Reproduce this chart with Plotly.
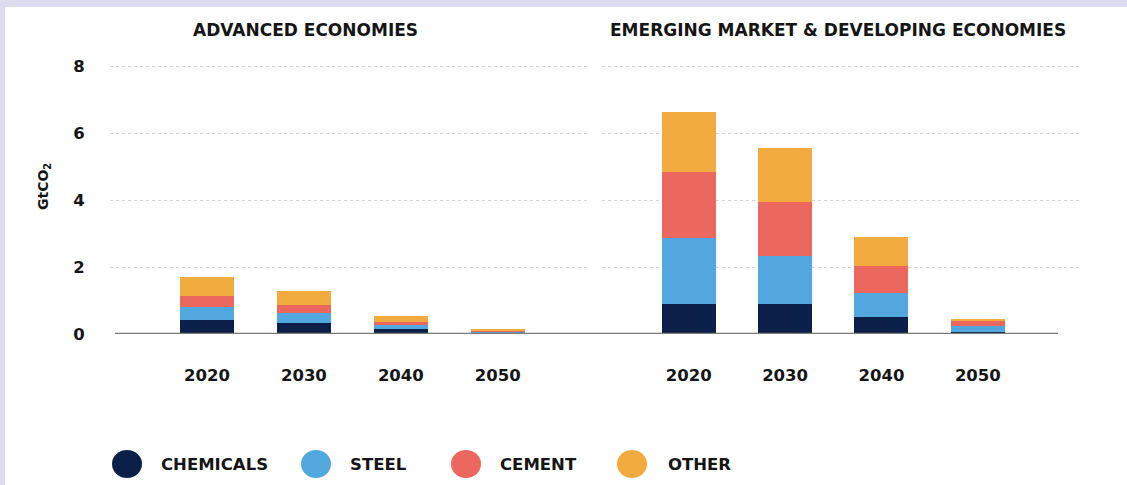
import plotly.graph_objects as go

# ---- data ----
years = ["2020", "2030", "2040", "2050"]
sectors = ["CHEMICALS", "STEEL", "CEMENT", "OTHER"]

adv_chemicals = [0.42, 0.34, 0.14, 0.03]
adv_steel = [0.40, 0.28, 0.12, 0.04]
adv_cement = [0.32, 0.25, 0.10, 0.02]
adv_other = [0.55, 0.40, 0.18, 0.03]

emd_chemicals = [0.90, 0.90, 0.52, 0.05]
emd_steel = [1.96, 1.44, 0.71, 0.19]
emd_cement = [1.97, 1.61, 0.81, 0.15]
emd_other = [1.79, 1.61, 0.86, 0.04]

panel_titles = ["ADVANCED ECONOMIES", "EMERGING MARKET & DEVELOPING ECONOMIES"]
y_title = "GtCO<sub>2</sub>"

# ---- styles ----
colors = ["#0b2049", "#52a8de", "#ec685f", "#f2ab3f"]
FONT = "DejaVu Sans"
W, H = 1127, 485
TXT = "#151515"


def px(x):
    return x / W


def py(y):
    return 1 - y / H


adv = [adv_chemicals, adv_steel, adv_cement, adv_other]
emd = [emd_chemicals, emd_steel, emd_cement, emd_other]

fig = go.Figure()
for i, name in enumerate(sectors):
    fig.add_trace(go.Bar(x=years, y=adv[i], name=name, marker_color=colors[i],
                         marker_line_width=0, showlegend=False,
                         xaxis="x", yaxis="y"))
    fig.add_trace(go.Bar(x=years, y=emd[i], name=name, marker_color=colors[i],
                         marker_line_width=0, showlegend=False,
                         xaxis="x2", yaxis="y2"))

tickfont = dict(family=FONT, size=16.5, color=TXT, weight="bold")
YMAX = 8.06
ydom = [py(334), py(334 - YMAX * 33.5)]

xcommon = dict(type="category", showgrid=False, zeroline=False, showline=False,
               ticks="outside", ticklen=26, tickcolor="rgba(0,0,0,0)",
               tickfont=tickfont, fixedrange=True, automargin=False)
ycommon = dict(range=[0, YMAX], tickvals=[0, 2, 4, 6, 8], showgrid=True,
               gridcolor="#d4d4d4", griddash="dot", gridwidth=1, zeroline=False,
               showline=False, domain=ydom, fixedrange=True, automargin=False)

shapes = [
    # white card over lavender frame
    dict(type="rect", xref="paper", yref="paper", x0=px(5), x1=1, y0=0, y1=py(7),
         fillcolor="white", line_width=0, layer="below"),
    # baseline
    dict(type="line", xref="paper", yref="y", x0=px(115), x1=px(1058), y0=0, y1=0,
         line=dict(color="#7a7a7a", width=2.5)),
]

title_font = dict(family=FONT, size=17, color=TXT, weight="bold")
annotations = [
    dict(text=panel_titles[0], x=px(306), y=py(30), xref="paper", yref="paper",
         xanchor="center", yanchor="middle", showarrow=False, font=title_font),
    dict(text=panel_titles[1], x=px(838), y=py(30), xref="paper", yref="paper",
         xanchor="center", yanchor="middle", showarrow=False, font=title_font),
    dict(text=y_title, x=px(44), y=py(187), xref="paper", yref="paper",
         xanchor="center", yanchor="middle", showarrow=False, textangle=-90,
         font=dict(family=FONT, size=14, color=TXT, weight="bold")),
]

# custom legend (large circles)
legend_circle_x = [127, 316, 466, 632]
legend_text_x = [159, 348, 498, 666]
legend_y = 464
for i, name in enumerate(sectors):
    cx = legend_circle_x[i]
    shapes.append(dict(type="circle", xref="paper", yref="paper",
                       x0=px(cx - 15), x1=px(cx + 15),
                       y0=py(legend_y + 14), y1=py(legend_y - 14),
                       fillcolor=colors[i], line_width=0))
    annotations.append(dict(text=name, x=px(legend_text_x[i]), y=py(legend_y),
                            xref="paper", yref="paper", xanchor="left",
                            yanchor="middle", showarrow=False,
                            font=dict(family=FONT, size=16.5, color=TXT, weight="bold")))

fig.update_layout(
    width=W, height=H,
    margin=dict(l=0, r=0, t=0, b=0, pad=0, autoexpand=False),
    paper_bgcolor="#dcdcf0",
    plot_bgcolor="rgba(0,0,0,0)",
    barmode="stack",
    bargap=0.44,
    showlegend=False,
    xaxis=dict(domain=[px(110), px(587)], range=[-1, 3.92], anchor="y", **xcommon),
    xaxis2=dict(domain=[px(602), px(1080)], range=[-0.9, 4.06], anchor="y2", **xcommon),
    yaxis=dict(anchor="x", ticks="outside", ticklen=21, tickcolor="rgba(0,0,0,0)",
               tickfont=tickfont, **ycommon),
    yaxis2=dict(anchor="x2", showticklabels=False, matches="y", **ycommon),
    shapes=shapes,
    annotations=annotations,
)

post = (
    "var gd=document.getElementById('{plot_id}');"
    "gd.style.position='fixed';gd.style.left='0px';gd.style.top='0px';"
    "document.documentElement.style.margin='0';"
    "document.body.style.margin='0';document.body.style.padding='0';"
    "document.documentElement.style.overflow='hidden';"
    "document.body.style.overflow='hidden';"
)

fig.write_html("out.html", config={"displayModeBar": False}, post_script=post)
